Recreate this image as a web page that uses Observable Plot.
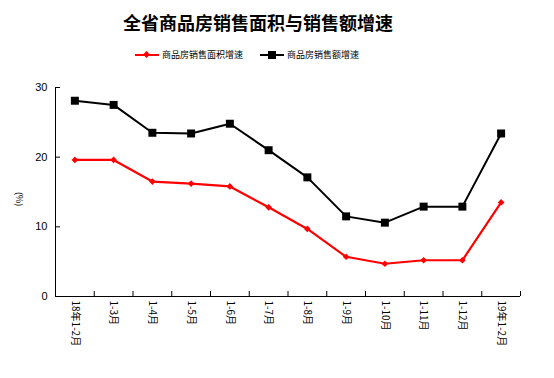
<!DOCTYPE html>
<html><head><meta charset="utf-8">
<script src="https://cdn.jsdelivr.net/npm/d3@7"></script>
<script src="https://cdn.jsdelivr.net/npm/@observablehq/plot@0.6"></script>
<style>
body{margin:0;background:#fff;width:554px;height:378px;overflow:hidden;font-family:"Noto Sans CJK SC",sans-serif;}
#title{height:44px;line-height:44px;font-size:18px;font-weight:bold;text-align:center;padding-right:38px;color:#000;}
#legend{height:22px;position:relative;font-size:9px;color:#000;}
.item{position:absolute;top:0;height:22px;line-height:22px;display:flex;align-items:center;}
.sw{position:relative;width:24px;height:22px;margin-right:3px;}
.sw .ln{position:absolute;left:0;right:0;top:10px;height:2px;}
.sw .mk{position:absolute;}
</style></head>
<body>
<div id="title">全省商品房销售面积与销售额增速</div>
<div id="legend"></div>
<div id="chart"></div>
<script>
const categories = ["18年1-2月","1-3月","1-4月","1-5月","1-6月","1-7月","1-8月","1-9月","1-10月","1-11月","1-12月","19年1-2月"];
const areaGrowth = [19.6, 19.6, 16.5, 16.2, 15.8, 12.8, 9.7, 5.7, 4.7, 5.2, 5.2, 13.5];
const salesGrowth = [28.1, 27.5, 23.5, 23.4, 24.8, 21.0, 17.1, 11.5, 10.6, 12.9, 12.9, 23.4];
const seriesNames = ["商品房销售面积增速", "商品房销售额增速"];
const yTicks = [0, 10, 20, 30];

const data = categories.map((c, i) => ({pos: i + 0.5, cat: c, area: areaGrowth[i], sales: salesGrowth[i]}));

// legend
const legend = document.getElementById("legend");
legend.innerHTML = `
<div class="item" style="left:135px"><div class="sw"><div class="ln" style="background:#ff0000"></div><div class="mk" style="left:9px;top:8px;width:5px;height:5px;background:#ff0000;transform:rotate(45deg)"></div></div><span>${seriesNames[0]}</span></div>
<div class="item" style="left:260px"><div class="sw"><div class="ln" style="background:#000"></div><div class="mk" style="left:8px;top:7px;width:8px;height:8px;background:#000"></div></div><span>${seriesNames[1]}</span></div>`;

const chart = Plot.plot({
  width: 554, height: 312,
  marginLeft: 55, marginRight: 34, marginTop: 21, marginBottom: 82,
  style: {fontFamily: "'Noto Sans CJK SC', sans-serif", fontSize: "10px", color: "#000", background: "#fff"},
  x: {domain: [0, categories.length]},
  y: {domain: [0, 30]},
  marks: [
    Plot.ruleX([0], {stroke: "#000", strokeWidth: 1}),
    Plot.ruleY([0], {stroke: "#000", strokeWidth: 1}),
    Plot.axisY({ticks: yTicks, tickSize: -5, tickPadding: 13, label: null, fontSize: 11, fontFamily: "'Liberation Sans', Arial, sans-serif", strokeOpacity: 1}),
    Plot.axisX({ticks: d3.range(categories.length + 1), tickSize: -5, tickFormat: () => "", label: null, strokeOpacity: 1}),
    Plot.text(data, {x: "pos", text: "cat", frameAnchor: "bottom", rotate: 90, textAnchor: "start", lineAnchor: "middle", dy: 4, fontSize: 10}),
    Plot.text(["(%)"], {frameAnchor: "left", dx: -37, rotate: 90, fontSize: 9}),
    Plot.line(data, {x: "pos", y: "sales", stroke: "#000", strokeWidth: 2}),
    Plot.dot(data, {x: "pos", y: "sales", symbol: "square", r: 4.5, fill: "#000", stroke: "none"}),
    Plot.line(data, {x: "pos", y: "area", stroke: "#ff0000", strokeWidth: 2.2}),
    Plot.dot(data, {x: "pos", y: "area", symbol: "diamond2", r: 3, fill: "#ff0000", stroke: "none"})
  ]
});
document.getElementById("chart").appendChild(chart);
</script>
</body></html>
